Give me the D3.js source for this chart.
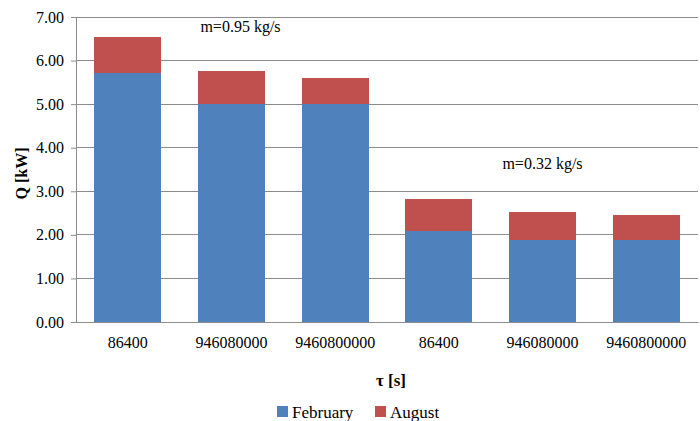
<!DOCTYPE html>
<html>
<head>
<meta charset="utf-8">
<script src="https://cdn.jsdelivr.net/npm/d3@7"></script>
<style>
  html, body { margin: 0; padding: 0; background: #fff; }
  svg text { font-family: "Liberation Serif", "DejaVu Serif", "Noto Serif", serif; fill: #000; }
</style>
</head>
<body>
<svg id="chart" width="700" height="421"></svg>
<script>
// Heat output for two mass flow rates and three time horizons
const categories = ["86400", "946080000", "9460800000", "86400", "946080000", "9460800000"];
const february = [5.72, 5.01, 5.01, 2.09, 1.89, 1.89];
const august = [0.83, 0.74, 0.58, 0.74, 0.64, 0.57];
const yTicks = [0, 1, 2, 3, 4, 5, 6, 7];
const seriesNames = ["February", "August"];
const colors = ["#4F81BD", "#C0504D"];
const noteTexts = ["m=0.95 kg/s", "m=0.32 kg/s"];

const svg = d3.select("#chart");
const margin = { left: 76, right: 2, top: 17, bottom: 99 };
const W = 700, H = 421;

const x = d3.scaleBand()
  .domain(d3.range(categories.length))
  .range([margin.left, W - margin.right])
  .paddingInner(0.353)
  .paddingOuter(0.1765);

const y = d3.scaleLinear().domain([0, 7]).range([H - margin.bottom, margin.top]);

// gridlines
svg.append("g")
  .selectAll("line")
  .data(yTicks)
  .join("line")
  .attr("x1", margin.left).attr("x2", W - margin.right)
  .attr("y1", d => y(d)).attr("y2", d => y(d))
  .attr("stroke", "#8c8c8c").attr("stroke-width", 1).attr("shape-rendering", "crispEdges");

// stacked bars
const rows = categories.map((c, i) => ({ i, February: february[i], August: august[i] }));
const stacked = d3.stack().keys(seriesNames)(rows);

svg.append("g")
  .selectAll("g")
  .data(stacked)
  .join("g")
  .attr("fill", (d, k) => colors[k])
  .selectAll("rect")
  .data(d => d)
  .join("rect")
  .attr("x", d => x(d.data.i))
  .attr("width", x.bandwidth())
  .attr("y", d => y(d[1]))
  .attr("height", d => y(d[0]) - y(d[1]))
  .attr("shape-rendering", "crispEdges");

// y axis
const yAxis = d3.axisLeft(y).tickValues(yTicks).tickFormat(d3.format(".2f")).tickSize(5).tickPadding(7);
const ya = svg.append("g").attr("transform", `translate(${margin.left},0)`).call(yAxis);
ya.attr("font-family", null);
ya.select(".domain").attr("stroke", "#8c8c8c");
ya.selectAll(".tick line").attr("stroke", "#8c8c8c");
ya.selectAll("text").attr("font-size", 16);

// x axis
const xAxis = d3.axisBottom(x).tickFormat(i => categories[i]).tickSize(0).tickPadding(15);
const xa = svg.append("g").attr("transform", `translate(0,${y(0)})`).call(xAxis);
xa.attr("font-family", null);
xa.select(".domain").attr("stroke", "#8c8c8c");
xa.selectAll("text").attr("font-size", 16);

// axis titles
svg.append("text")
  .attr("transform", `translate(27,${(y(0) + y(7)) / 2 + 4}) rotate(-90)`)
  .attr("text-anchor", "middle")
  .attr("font-size", 16).attr("font-weight", "bold")
  .text("Q [kW]");

svg.append("text")
  .attr("x", (margin.left + W - margin.right) / 2 + 4)
  .attr("y", 386)
  .attr("text-anchor", "middle")
  .attr("font-size", 17).attr("font-weight", "bold")
  .text("τ [s]");

// flow-rate notes, one over each group of three bars
svg.append("g")
  .selectAll("text")
  .data(noteTexts)
  .join("text")
  .attr("x", (d, k) => k === 0 ? x(1) + x.bandwidth() / 2 + 9 : x(4) + x.bandwidth() / 2)
  .attr("y", (d, k) => k === 0 ? 32 : 169)
  .attr("text-anchor", "middle")
  .attr("font-size", 16)
  .text(d => d);

// legend
const legend = svg.append("g").attr("transform", "translate(277,406)");
const items = legend.selectAll("g").data(seriesNames).join("g")
  .attr("transform", (d, k) => `translate(${k * 98},0)`);
items.append("rect").attr("width", 11).attr("height", 11).attr("fill", (d, k) => colors[k]);
items.append("text").attr("x", 15).attr("y", 12).attr("font-size", 17).text(d => d);
</script>
</body>
</html>
